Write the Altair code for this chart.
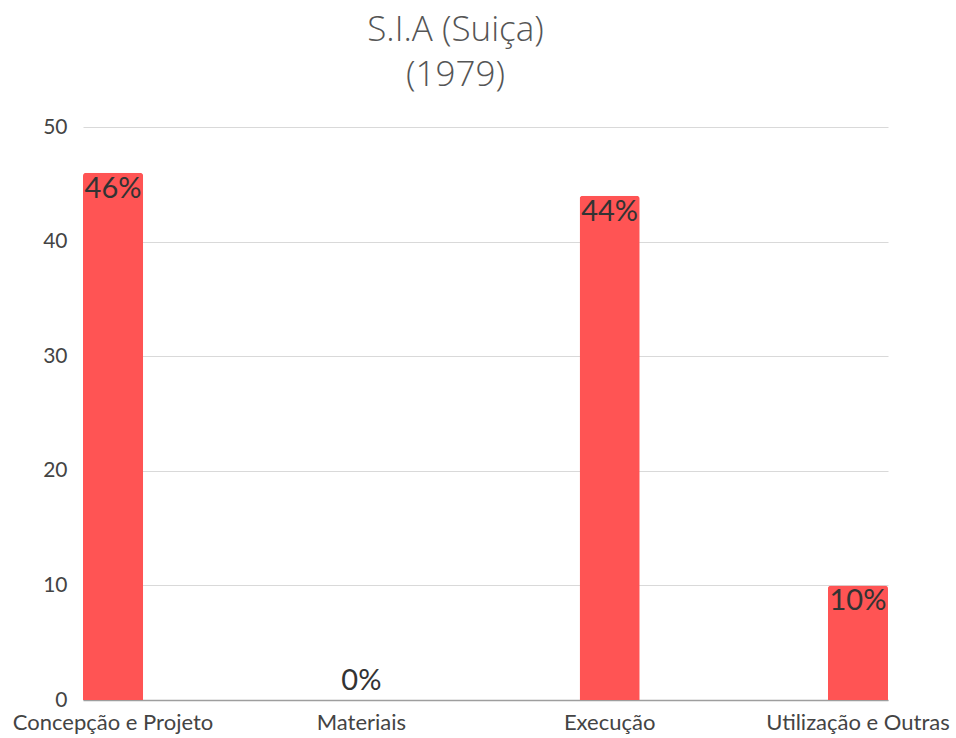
import altair as alt
import pandas as pd

categories = ["Concepção e Projeto", "Materiais", "Execução", "Utilização e Outras"]
values = [46, 0, 44, 10]
labels = ["46%", "0%", "44%", "10%"]

df = pd.DataFrame({"cat": categories, "val": values, "label": labels})

x_enc = alt.X("cat:N", sort=categories, title=None,
              scale=alt.Scale(paddingInner=0.758, paddingOuter=0),
              axis=alt.Axis(labelAngle=0, labelFont="Lato", labelFontSize=22,
                            labelColor="#444", labelPadding=12, ticks=False,
                            labelLimit=0, labelOverlap=False,
                            domainColor="#9e9e9e", domainWidth=1.5, grid=False))
y_enc = alt.Y("val:Q", title=None,
              scale=alt.Scale(domain=[0, 50]),
              axis=alt.Axis(values=[0, 10, 20, 30, 40, 50], labelFont="Lato",
                            labelFontSize=21, labelColor="#444", labelPadding=16,
                            ticks=False, domain=False, gridColor="#d9d9d9",
                            gridWidth=1))

bars = alt.Chart(df).mark_bar(color="#ff5454", cornerRadiusTopLeft=3,
                              cornerRadiusTopRight=3).encode(x=x_enc, y=y_enc)

txt_in = alt.Chart(df).transform_filter("datum.val > 0").mark_text(
    baseline="top", dy=2, font="Lato", fontSize=29, color="#333333"
).encode(x=alt.X("cat:N", sort=categories), y="val:Q", text="label:N")

txt_zero = alt.Chart(df).transform_filter("datum.val == 0").mark_text(
    baseline="alphabetic", dy=-10, font="Lato", fontSize=29, color="#333333"
).encode(x=alt.X("cat:N", sort=categories), y="val:Q", text="label:N")

chart = alt.layer(bars, txt_in, txt_zero).properties(
    width=805, height=573,
    title=alt.TitleParams(["S.I.A (Suiça)", "(1979)"], font="Open Sans",
                          fontSize=35, fontWeight=300, color="#555555",
                          anchor="middle", dx=-30, offset=23, lineHeight=45),
    autosize=alt.AutoSizeParams(type="none"),
    padding={"left": 83, "top": 127, "right": 68, "bottom": 38},
).configure(background="white").configure_view(stroke=None, strokeWidth=0)

chart.save("out.html", embed_options={"renderer": "svg", "actions": False})
